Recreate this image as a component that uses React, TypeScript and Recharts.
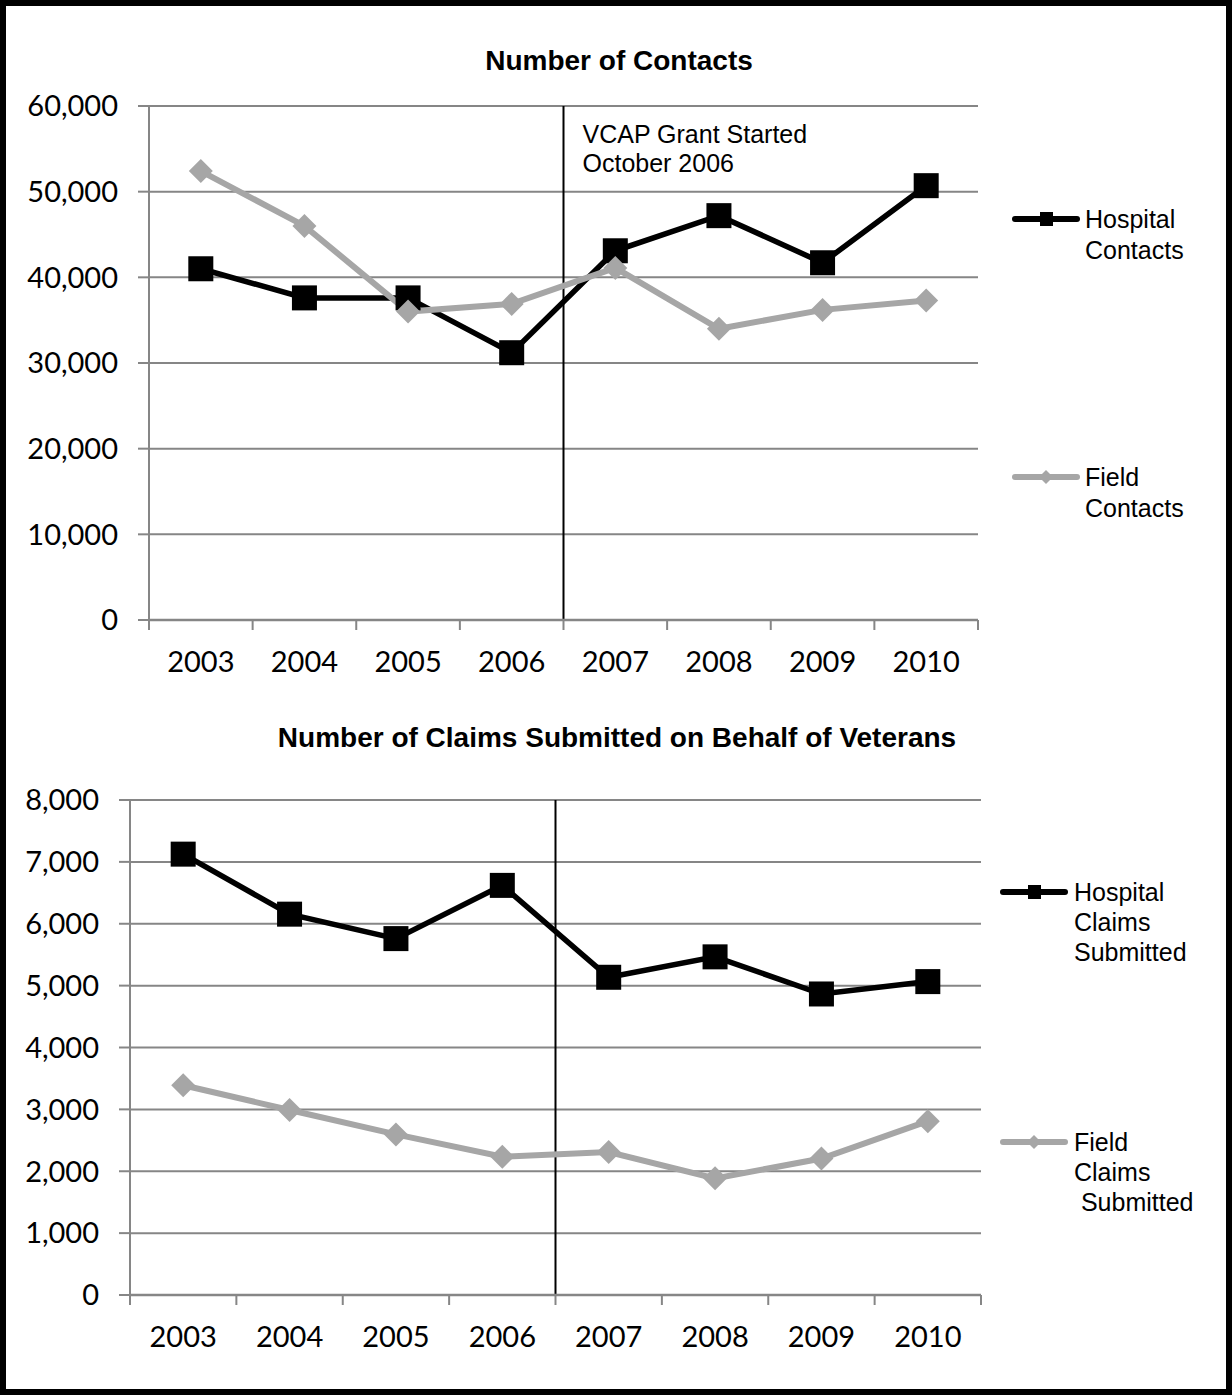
import React from 'react';
import { LineChart, Line, XAxis, YAxis, CartesianGrid, ReferenceLine } from 'recharts';

const years = ['2003', '2004', '2005', '2006', '2007', '2008', '2009', '2010'];
const hospitalContacts = [41000, 37600, 37600, 31200, 43100, 47200, 41700, 50700];
const fieldContacts = [52400, 46000, 36000, 36900, 41100, 34000, 36200, 37300];
const hospitalClaims = [7125, 6155, 5760, 6620, 5135, 5465, 4865, 5065];
const fieldClaims = [3390, 2990, 2595, 2235, 2310, 1885, 2205, 2810];
const contactTicks = [0, 10000, 20000, 30000, 40000, 50000, 60000];
const claimTicks = [0, 1000, 2000, 3000, 4000, 5000, 6000, 7000, 8000];
const grantStartBoundary = 4; // between 2006 and 2007

const contactsData = years.map((y, i) => ({ x: i + 0.5, year: y, hospital: hospitalContacts[i], field: fieldContacts[i] }));
const claimsData = years.map((y, i) => ({ x: i + 0.5, year: y, hospital: hospitalClaims[i], field: fieldClaims[i] }));
const xTicks = Array.from({ length: 17 }, (_, i) => i / 2);

const GRID = '#868686';
const HOSP = '#000000';
const FIELD = '#a6a6a6';
const TICK_FONT = 'Lato, "Open Sans", sans-serif';
const TEXT_FONT = '"Liberation Sans", Arial, sans-serif';

const fmt = (v: number) => v.toLocaleString('en-US');

const XTick = (props: any) => {
  const { x, y, payload } = props;
  const v = payload.value;
  if (Number.isInteger(v)) {
    return <line x1={x} x2={x} y1={y - 10} y2={y} stroke={GRID} strokeWidth={2} />;
  }
  return (
    <text x={x} y={y + 42} textAnchor="middle" fontFamily={TICK_FONT} fontSize={29} fill="#000">
      {years[Math.floor(v)]}
    </text>
  );
};

const Square = (props: any) => {
  const { cx, cy, index } = props;
  if (cx == null || cy == null) return <g key={`s${index}`} />;
  return <rect key={`s${index}`} x={cx - 12.5} y={cy - 12.5} width={25} height={25} fill={HOSP} />;
};

const Diamond = (props: any) => {
  const { cx, cy, index } = props;
  if (cx == null || cy == null) return <g key={`d${index}`} />;
  return <path key={`d${index}`} d={`M${cx},${cy - 12}L${cx + 12},${cy}L${cx},${cy + 12}L${cx - 12},${cy}Z`} fill={FIELD} />;
};

const Annotation = (props: any) => {
  const vb = props.viewBox || {};
  const x = (vb.x || 0) + 19;
  const y = vb.y || 0;
  return (
    <text fontFamily={TEXT_FONT} fontSize={25} fill="#000">
      <tspan x={x} y={y + 37}>VCAP Grant Started</tspan>
      <tspan x={x} y={y + 66}>October 2006</tspan>
    </text>
  );
};

function Chart(props: {
  data: any[]; ticks: number[]; max: number; top: number; height: number;
  marginTop: number; marginBottom: number; yWidth: number; marginRight: number; annotate: boolean;
}) {
  const { data, ticks, max, top, height, marginTop, marginBottom, yWidth, marginRight, annotate } = props;
  return (
    <div style={{ position: 'absolute', left: 0, top }}>
      <LineChart width={1232} height={height} data={data}
        margin={{ top: marginTop, right: marginRight, bottom: marginBottom, left: 0 }}>
        <CartesianGrid horizontal vertical={false} stroke={GRID} strokeWidth={2} />
        <XAxis type="number" dataKey="x" domain={[0, 8]} ticks={xTicks} interval={0}
          tick={<XTick />} tickLine={false} tickSize={10} tickMargin={0} height={50}
          axisLine={{ stroke: GRID, strokeWidth: 2.5 }} />
        <YAxis type="number" domain={[0, max]} ticks={ticks} interval={0} width={yWidth}
          tickFormatter={fmt} tickSize={11} tickMargin={20}
          tick={{ fontFamily: TICK_FONT, fontSize: 29, fill: '#000' }}
          tickLine={{ stroke: GRID, strokeWidth: 2 }} axisLine={{ stroke: GRID, strokeWidth: 2 }} />
        <ReferenceLine x={grantStartBoundary} stroke="#000" strokeWidth={2}
          label={annotate ? <Annotation /> : undefined} />
        <Line type="linear" dataKey="hospital" stroke={HOSP} strokeWidth={5.5} dot={Square}
          activeDot={false} isAnimationActive={false} />
        <Line type="linear" dataKey="field" stroke={FIELD} strokeWidth={6} dot={Diamond}
          activeDot={false} isAnimationActive={false} />
      </LineChart>
    </div>
  );
}

const LegendIcon = ({ x, y, kind }: { x: number; y: number; kind: 'h' | 'f' }) => (
  <g>
    <line x1={x + 3} x2={x + 65} y1={y} y2={y} stroke={kind === 'h' ? HOSP : FIELD} strokeWidth={6} strokeLinecap="round" />
    {kind === 'h'
      ? <rect x={x + 28} y={y - 7} width={13} height={14} fill={HOSP} />
      : <path d={`M${x + 34},${y - 7}L${x + 41},${y}L${x + 34},${y + 7}L${x + 27},${y}Z`} fill={FIELD} />}
  </g>
);

const LegendText = ({ x, y, lines, lh }: { x: number; y: number; lines: string[]; lh: number }) => (
  <text fontFamily={TEXT_FONT} fontSize={25} fill="#000" style={{ whiteSpace: 'pre' }}>
    {lines.map((l, i) => <tspan key={i} x={x} y={y + 9 + i * lh} xmlSpace="preserve">{l}</tspan>)}
  </text>
);

export default function App() {
  return (
    <div style={{ position: 'absolute', left: 0, top: 0, width: 1232, height: 1395, background: '#fff', overflow: 'hidden' }}>
      <Chart data={contactsData} ticks={contactTicks} max={60000} top={0} height={700}
        marginTop={106} marginBottom={30} yWidth={149} marginRight={254} annotate />
      <Chart data={claimsData} ticks={claimTicks} max={8000} top={700} height={695}
        marginTop={100} marginBottom={50} yWidth={130} marginRight={251} annotate={false} />
      <svg width={1232} height={1395} style={{ position: 'absolute', left: 0, top: 0, pointerEvents: 'none' }}>
        <text x={619} y={70} textAnchor="middle" fontFamily={TEXT_FONT} fontWeight="bold" fontSize={28} fill="#000">Number of Contacts</text>
        <text x={617} y={747} textAnchor="middle" fontFamily={TEXT_FONT} fontWeight="bold" fontSize={28} fill="#000">Number of Claims Submitted on Behalf of Veterans</text>
        <LegendIcon x={1012} y={219} kind="h" />
        <LegendText x={1085} y={219} lines={['Hospital', 'Contacts']} lh={31} />
        <LegendIcon x={1012} y={477} kind="f" />
        <LegendText x={1085} y={477} lines={['Field', 'Contacts']} lh={31} />
        <LegendIcon x={1000} y={892} kind="h" />
        <LegendText x={1074} y={892} lines={['Hospital', 'Claims', 'Submitted']} lh={30} />
        <LegendIcon x={1000} y={1142} kind="f" />
        <LegendText x={1074} y={1142} lines={['Field', 'Claims', ' Submitted']} lh={30} />
      </svg>
      <div style={{ position: 'absolute', left: 0, top: 0, width: 1232, height: 1395, boxSizing: 'border-box', border: '6px solid #000', pointerEvents: 'none' }} />
    </div>
  );
}
